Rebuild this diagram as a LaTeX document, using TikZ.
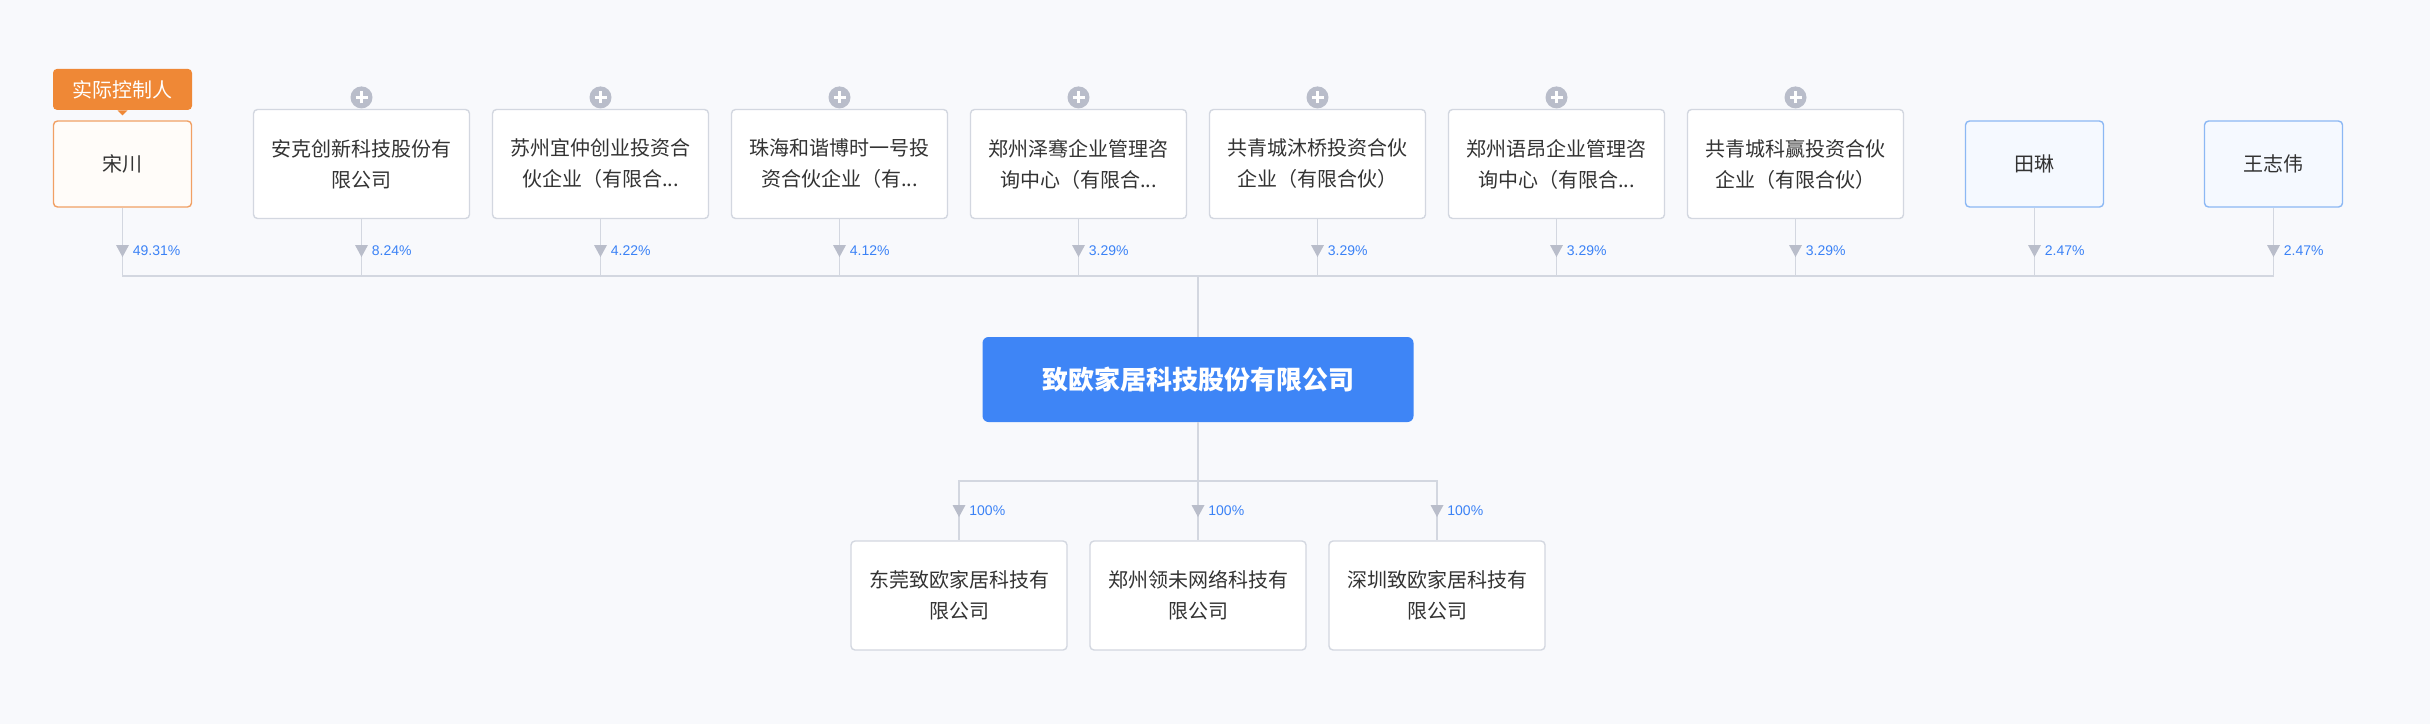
\documentclass[tikz,border=0pt]{standalone}
\usepackage{fontspec}
\setmainfont{Noto Sans CJK SC}
\newfontfamily\pctfont{Liberation Sans}
\usetikzlibrary{positioning}
\definecolor{pagebg}{HTML}{F8F9FC}
\definecolor{edgegray}{HTML}{D3D7E0}
\definecolor{tipgray}{HTML}{B9BDCA}
\definecolor{pctblue}{HTML}{3B82F6}
\definecolor{mainblue}{HTML}{3E85F6}
\definecolor{ctrlorange}{HTML}{EF8836}
\definecolor{ctrlline}{HTML}{F1A064}
\definecolor{ctrlfill}{HTML}{FFFCF9}
\definecolor{manline}{HTML}{8CB8F4}
\definecolor{manfill}{HTML}{F5F9FF}
\definecolor{inktext}{HTML}{333333}

\begin{document}
\begin{tikzpicture}[x=0.5pt,y=-0.5pt,node distance=119.5pt,on grid,
   firm/.style={draw=edgegray,line width=0.7pt,fill=white,rounded corners=2pt,
     minimum width=108pt,minimum height=54.5pt,inner sep=0pt,align=center,
     text=inktext,font=\fontsize{10pt}{15.5pt}\selectfont},
   person/.style={firm,minimum width=69pt,minimum height=43pt,draw=manline,fill=manfill},
   hub/.style={fill=mainblue,rounded corners=3pt,minimum width=215.5pt,minimum height=42.5pt,
     inner sep=0pt,text=white,font=\fontsize{13pt}{15pt}\selectfont\bfseries},
   ctrltag/.style={fill=ctrlorange,rounded corners=2pt,minimum width=69.5pt,minimum height=20.5pt,
     inner sep=0pt,text=white,anchor=south,font=\fontsize{10pt}{12pt}\selectfont},
   expander/.style={circle,fill=tipgray,minimum size=11pt,inner sep=0pt,anchor=south,
     path picture={\draw[white,line width=1.5pt]
       ([xshift=-3pt]path picture bounding box.center) -- ([xshift=3pt]path picture bounding box.center)
       ([yshift=-3pt]path picture bounding box.center) -- ([yshift=3pt]path picture bounding box.center);}},
   pct/.style={anchor=west,xshift=5pt,inner sep=0pt,text=pctblue,font=\pctfont\fontsize{7pt}{8pt}\selectfont},
   link/.style={draw=edgegray,line width=0.65pt},
   viabus/.style={to path={-- (\tikztostart |- bus) -| (\tikztotarget)}},
   viasub/.style={to path={-- (\tikztostart |- subbus) -| (\tikztotarget)}},
   sharetip/.pic={\fill[tipgray] (-6.5,-6) -- (6.5,-6) -- (0,6) -- cycle;}]

   \useasboundingbox[fill=pagebg] (0,0) rectangle (2430,724);

   \coordinate (tip)    at (0,251);
   \coordinate (bus)    at (0,276);
   \coordinate (subbus) at (0,481);
   \coordinate (subtip) at (0,511);

   % shareholders
   \node[person,draw=ctrlline,fill=ctrlfill] (s1) at (122.5,164) {宋川};
   \node[firm]   (s2)  [right=of s1] {安克创新科技股份有\\限公司};
   \node[firm]   (s3)  [right=of s2] {苏州宜仲创业投资合\\伙企业（有限合...};
   \node[firm]   (s4)  [right=of s3] {珠海和谐博时一号投\\资合伙企业（有...};
   \node[firm]   (s5)  [right=of s4] {郑州泽骞企业管理咨\\询中心（有限合...};
   \node[firm]   (s6)  [right=of s5] {共青城沐桥投资合伙\\企业（有限合伙）};
   \node[firm]   (s7)  [right=of s6] {郑州语昂企业管理咨\\询中心（有限合...};
   \node[firm]   (s8)  [right=of s7] {共青城科赢投资合伙\\企业（有限合伙）};
   \node[person] (s9)  [right=of s8] {田琳};
   \node[person] (s10) [right=of s9] {王志伟};

   \node[ctrltag] (tag) at ([yshift=5pt]s1.north) {实际控制人};
   \fill[ctrlorange] ([xshift=-2.5pt]tag.south) -- ([xshift=2.5pt]tag.south)
      -- ([yshift=-2.5pt]tag.south) -- cycle;

   \node[expander] (e2) at (s2.north) {};
   \node[expander] (e3) at (s3.north) {};
   \node[expander] (e4) at (s4.north) {};
   \node[expander] (e5) at (s5.north) {};
   \node[expander] (e6) at (s6.north) {};
   \node[expander] (e7) at (s7.north) {};
   \node[expander] (e8) at (s8.north) {};

   % company and subsidiaries
   \node[hub]  (main) at (1198,379.5) {致欧家居科技股份有限公司};
   \node[firm] (c2) [below=108pt of main] {郑州领未网络科技有\\限公司};
   \node[firm] (c1) [left=of c2]  {东莞致欧家居科技有\\限公司};
   \node[firm] (c3) [right=of c2] {深圳致欧家居科技有\\限公司};

   \path[link] (s1) edge[viabus] (main)
               (s2) edge[viabus] (main)
               (s3) edge[viabus] (main)
               (s4) edge[viabus] (main)
               (s5) edge[viabus] (main)
               (s6) edge[viabus] (main)
               (s7) edge[viabus] (main)
               (s8) edge[viabus] (main)
               (s9) edge[viabus] (main)
               (s10) edge[viabus] (main)
               (main) edge[viasub] (c1)
                      edge[viasub] (c2)
                      edge[viasub] (c3);

   % share marks
   \pic at (s1 |- tip) {sharetip};  \node[pct] (p1)  at (s1 |- tip)  {49.31\%};
   \pic at (s2 |- tip) {sharetip};  \node[pct] (p2)  at (s2 |- tip)  {8.24\%};
   \pic at (s3 |- tip) {sharetip};  \node[pct] (p3)  at (s3 |- tip)  {4.22\%};
   \pic at (s4 |- tip) {sharetip};  \node[pct] (p4)  at (s4 |- tip)  {4.12\%};
   \pic at (s5 |- tip) {sharetip};  \node[pct] (p5)  at (s5 |- tip)  {3.29\%};
   \pic at (s6 |- tip) {sharetip};  \node[pct] (p6)  at (s6 |- tip)  {3.29\%};
   \pic at (s7 |- tip) {sharetip};  \node[pct] (p7)  at (s7 |- tip)  {3.29\%};
   \pic at (s8 |- tip) {sharetip};  \node[pct] (p8)  at (s8 |- tip)  {3.29\%};
   \pic at (s9 |- tip) {sharetip};  \node[pct] (p9)  at (s9 |- tip)  {2.47\%};
   \pic at (s10 |- tip) {sharetip}; \node[pct] (p10) at (s10 |- tip) {2.47\%};
   \pic at (c1 |- subtip) {sharetip}; \node[pct] (q1) at (c1 |- subtip) {100\%};
   \pic at (c2 |- subtip) {sharetip}; \node[pct] (q2) at (c2 |- subtip) {100\%};
   \pic at (c3 |- subtip) {sharetip}; \node[pct] (q3) at (c3 |- subtip) {100\%};

\end{tikzpicture}
\end{document}
